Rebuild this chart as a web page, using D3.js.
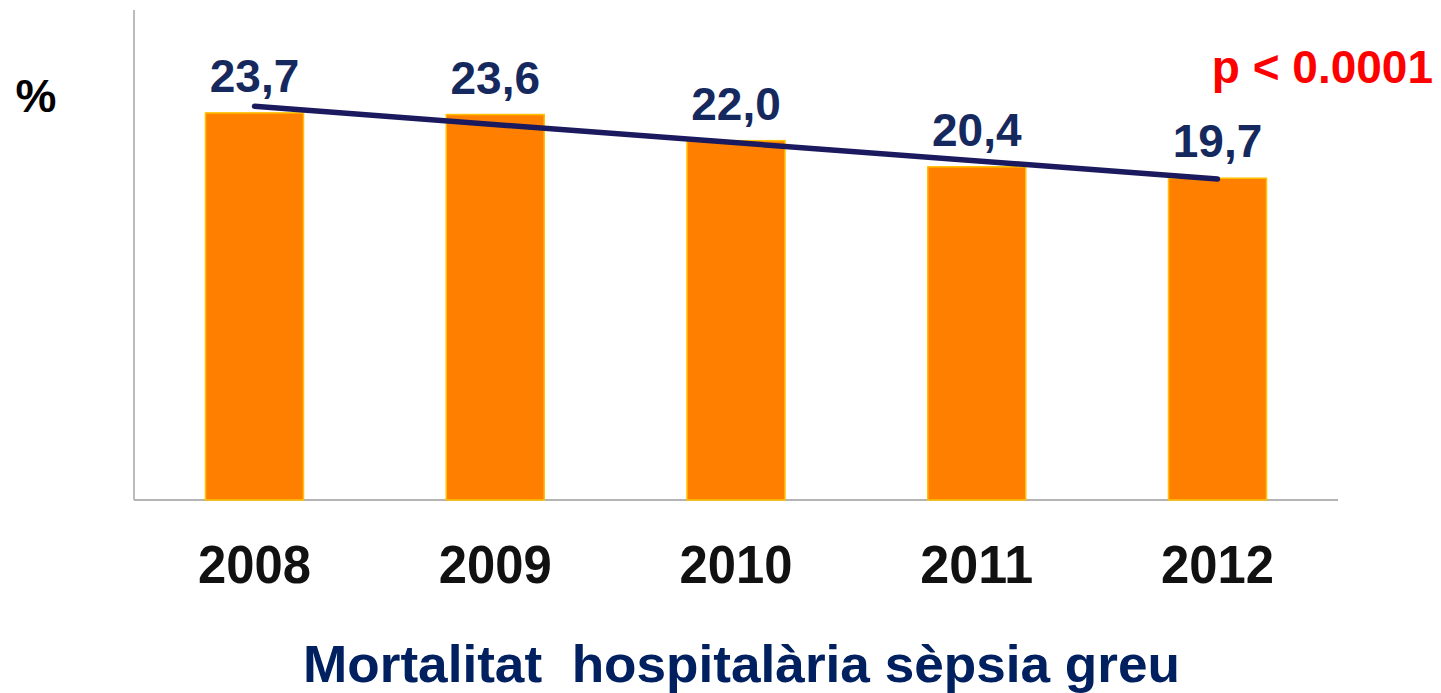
<!DOCTYPE html>
<html>
<head>
<meta charset="utf-8">
<script src="https://cdn.jsdelivr.net/npm/d3@7"></script>
<style>
  html, body { margin: 0; padding: 0; background: #ffffff; }
  svg { display: block; font-family: "Liberation Sans", Arial, sans-serif; }
</style>
</head>
<body>
<svg id="chart" width="1441" height="693"></svg>
<script>
// ---- data ----
const years = ["2008", "2009", "2010", "2011", "2012"];
const mortality = [23.7, 23.6, 22.0, 20.4, 19.7];
const valueLabels = ["23,7", "23,6", "22,0", "20,4", "19,7"];
const trendValues = [24.1, 19.65]; // trend line at first and last year
const yDomain = [0, 30];
const yUnit = "%";
const pValueText = "p < 0.0001";
const titleText = "Mortalitat  hospitalària sèpsia greu";

// ---- layout ----
const svg = d3.select("#chart");
const x0 = 134, x1 = 1338, yTop = 10, yBase = 500;

const x = d3.scaleBand()
  .domain(years)
  .range([x0, x1])
  .paddingInner(0.593)
  .paddingOuter(0.297);

const y = d3.scaleLinear().domain(yDomain).range([yBase, yTop]);

// axes lines
svg.append("line")
  .attr("x1", x0).attr("x2", x0)
  .attr("y1", yTop).attr("y2", yBase)
  .attr("stroke", "#a6a6a6").attr("stroke-width", 1.5);
svg.append("line")
  .attr("x1", x0).attr("x2", x1)
  .attr("y1", yBase).attr("y2", yBase)
  .attr("stroke", "#b4b4b4").attr("stroke-width", 2);

// bars
const data = years.map((yr, i) => ({ yr, v: mortality[i], lab: valueLabels[i] }));
svg.selectAll("rect.bar")
  .data(data)
  .enter().append("rect")
  .attr("class", "bar")
  .attr("x", d => x(d.yr))
  .attr("y", d => y(d.v))
  .attr("width", x.bandwidth())
  .attr("height", d => y(0) - y(d.v))
  .attr("fill", "#ff8000")
  .attr("stroke", "#ffc000")
  .attr("stroke-width", 1.5);

// trend line
const trend = [
  { yr: years[0], v: trendValues[0] },
  { yr: years[years.length - 1], v: trendValues[1] }
];
svg.append("path")
  .datum(trend)
  .attr("d", d3.line().x(d => x(d.yr) + x.bandwidth() / 2).y(d => y(d.v)))
  .attr("fill", "none")
  .attr("stroke", "#1c1a5e")
  .attr("stroke-width", 5.5)
  .attr("stroke-linecap", "round");

// value labels
svg.selectAll("text.val")
  .data(data)
  .enter().append("text")
  .attr("class", "val")
  .attr("x", d => x(d.yr) + x.bandwidth() / 2)
  .attr("y", d => y(d.v) - 21)
  .attr("text-anchor", "middle")
  .attr("font-size", 46)
  .attr("font-weight", "bold")
  .attr("fill", "#15295e")
  .text(d => d.lab);

// x axis labels
const xAxis = d3.axisBottom(x).tickSize(0).tickPadding(0);
const gx = svg.append("g").attr("transform", `translate(0,${yBase})`).call(xAxis);
gx.select(".domain").remove();
gx.selectAll("text")
  .attr("y", 83)
  .attr("dy", 0)
  .attr("font-size", 53)
  .attr("font-weight", "bold")
  .attr("font-family", "'Liberation Sans', Arial, sans-serif")
  .attr("fill", "#111111")
  .attr("textLength", 113)
  .attr("lengthAdjust", "spacingAndGlyphs");

// unit label
svg.append("text")
  .attr("x", 36).attr("y", 112)
  .attr("text-anchor", "middle")
  .attr("font-size", 46)
  .attr("font-weight", "bold")
  .attr("fill", "#000")
  .text(yUnit);

// p-value
svg.append("text")
  .attr("x", 1433).attr("y", 83)
  .attr("text-anchor", "end")
  .attr("font-size", 46)
  .attr("font-weight", "bold")
  .attr("fill", "#ff0000")
  .text(pValueText);

// title
svg.append("text")
  .attr("x", 303).attr("y", 682)
  .attr("font-size", 52)
  .attr("font-weight", "bold")
  .attr("fill", "#002060")
  .attr("textLength", 877)
  .attr("lengthAdjust", "spacingAndGlyphs")
  .style("white-space", "pre")
  .text(titleText);
</script>
</body>
</html>
